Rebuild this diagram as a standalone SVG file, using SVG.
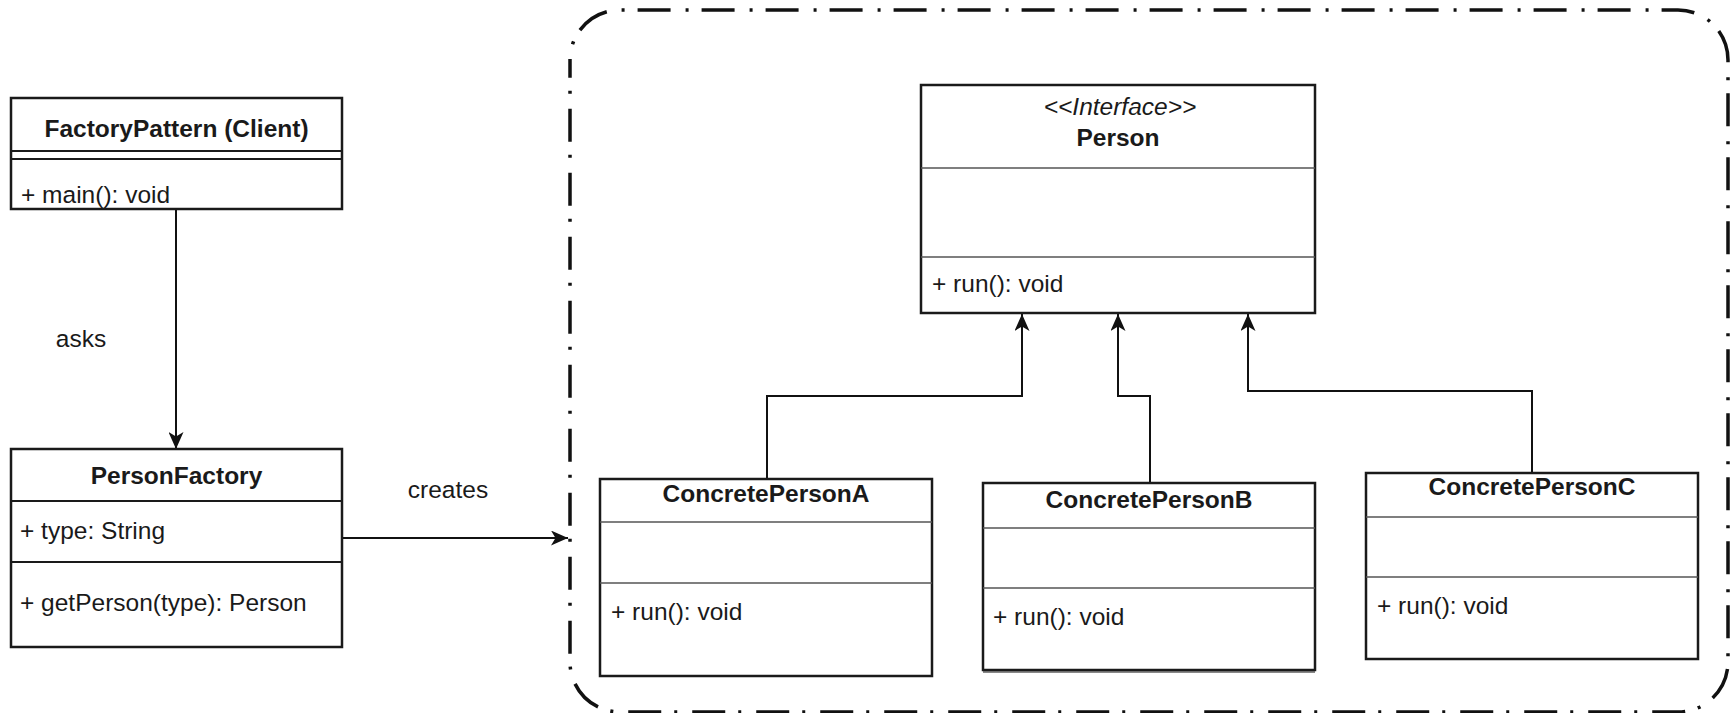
<svg xmlns="http://www.w3.org/2000/svg" width="1735" height="713" viewBox="0 0 1735 713">
  <style>
    text { font-family: "Liberation Sans", Arial, Helvetica, sans-serif; font-size: 24.5px; fill: #1a1a1a; }
    .title { font-weight: bold; text-anchor: middle; }
    .stereo { font-style: italic; text-anchor: middle; }
    .label { text-anchor: middle; }
    .box { fill: #ffffff; stroke: #1a1a1a; stroke-width: 2.5; }
    .sep { stroke: #555555; stroke-width: 1.6; fill: none; }
    .sepdark { stroke: #1a1a1a; stroke-width: 2.2; fill: none; }
    .edge { fill: none; stroke: #111111; stroke-width: 2; }
    .frame { fill: none; stroke: #111111; stroke-width: 3.5; stroke-dasharray: 3 13 33 15; stroke-dashoffset: 48; }
  </style>
  <defs>
    <marker id="arrow" viewBox="0 0 17 15" refX="17" refY="7.5" markerWidth="17" markerHeight="15" markerUnits="userSpaceOnUse" orient="auto">
      <path d="M0,0 L17,7.5 L0,15 L4.5,7.5 Z" fill="#111111"/>
    </marker>
  </defs>

  <rect width="1735" height="713" fill="#ffffff"/>

  <!-- package boundary around the product hierarchy -->
  <g id="product-frame">
    <path class="frame" d="M570,60 A50,50 0 0 1 620,10 H1678 A50,50 0 0 1 1728,60 V662 A50,50 0 0 1 1678,712 H620 A50,50 0 0 1 570,662 Z"/>
  </g>

  <g id="connectors">
    <path class="edge" d="M176,209 V449" marker-end="url(#arrow)"/>
    <path class="edge" d="M342,538 H568" marker-end="url(#arrow)"/>
    <path class="edge" d="M767,479 V396 H1022 V314" marker-end="url(#arrow)"/>
    <path class="edge" d="M1150,483 V396 H1118 V314" marker-end="url(#arrow)"/>
    <path class="edge" d="M1532,473 V391 H1248 V314" marker-end="url(#arrow)"/>
    <text class="label" x="81" y="347">asks</text>
    <text class="label" x="448" y="498">creates</text>
  </g>

  <g id="factory-pattern-client">
    <rect class="box" x="11" y="98" width="331" height="111"/>
    <line class="sepdark" x1="11" y1="151" x2="342" y2="151"/>
    <line class="sepdark" x1="11" y1="159" x2="342" y2="159"/>
    <text class="title" x="176.5" y="137">FactoryPattern (Client)</text>
    <text x="21" y="203">+ main(): void</text>
  </g>

  <g id="person-factory">
    <rect class="box" x="11" y="449" width="331" height="198"/>
    <line class="sepdark" x1="11" y1="501" x2="342" y2="501"/>
    <line class="sepdark" x1="11" y1="562" x2="342" y2="562"/>
    <text class="title" x="176.5" y="484">PersonFactory</text>
    <text x="20" y="539">+ type: String</text>
    <text x="20" y="611">+ getPerson(type): Person</text>
  </g>

  <g id="person-interface">
    <rect class="box" x="921" y="85" width="394" height="228"/>
    <line class="sep" x1="921" y1="168" x2="1315" y2="168"/>
    <line class="sep" x1="921" y1="257" x2="1315" y2="257"/>
    <text class="stereo" x="1120" y="115">&lt;&lt;Interface&gt;&gt;</text>
    <text class="title" x="1118" y="146">Person</text>
    <text x="932" y="292">+ run(): void</text>
  </g>

  <g id="concrete-person-a">
    <rect class="box" x="600" y="479" width="332" height="197"/>
    <line class="sep" x1="600" y1="522" x2="932" y2="522"/>
    <line class="sep" x1="600" y1="583" x2="932" y2="583"/>
    <text class="title" x="766" y="502">ConcretePersonA</text>
    <text x="611" y="620">+ run(): void</text>
  </g>

  <g id="concrete-person-b">
    <line x1="983" y1="671.5" x2="1315" y2="671.5" stroke="#888888" stroke-width="3"/>
    <rect class="box" x="983" y="483" width="332" height="187"/>
    <line class="sep" x1="983" y1="528" x2="1315" y2="528"/>
    <line class="sep" x1="983" y1="588" x2="1315" y2="588"/>
    <text class="title" x="1149" y="508">ConcretePersonB</text>
    <text x="993" y="625">+ run(): void</text>
  </g>

  <g id="concrete-person-c">
    <rect class="box" x="1366" y="473" width="332" height="186"/>
    <line class="sep" x1="1366" y1="517" x2="1698" y2="517"/>
    <line class="sep" x1="1366" y1="577" x2="1698" y2="577"/>
    <text class="title" x="1532" y="495">ConcretePersonC</text>
    <text x="1377" y="614">+ run(): void</text>
  </g>
</svg>
